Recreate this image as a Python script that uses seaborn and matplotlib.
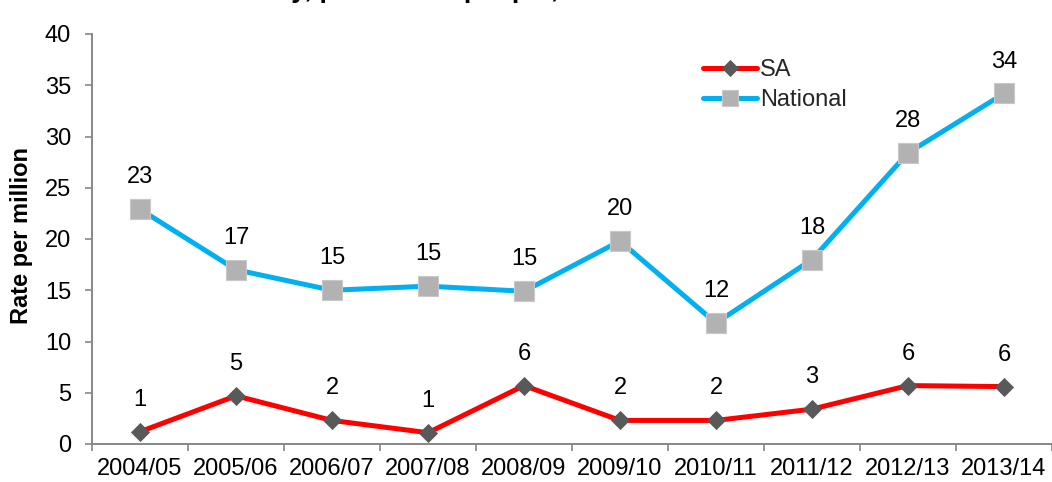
import numpy as np
import pandas as pd
import matplotlib
matplotlib.use("Agg")
import matplotlib.pyplot as plt
import seaborn as sns

# Rate per million, by financial year
years = ["2004/05", "2005/06", "2006/07", "2007/08", "2008/09",
         "2009/10", "2010/11", "2011/12", "2012/13", "2013/14"]
sa_rate = [1.2, 4.7, 2.3, 1.1, 5.7, 2.3, 2.3, 3.4, 5.7, 5.6]
national_rate = [22.9, 17.0, 15.0, 15.4, 14.9, 19.8, 11.8, 18.0, 28.4, 34.2]
y_ticks = [0, 5, 10, 15, 20, 25, 30, 35, 40]

df = pd.DataFrame({
    "pos": np.arange(len(years)),
    "year": years,
    "SA": sa_rate,
    "National": national_rate,
})

sns.set_theme(style="white")
plt.rcParams["font.family"] = ["Liberation Sans", "DejaVu Sans"]

W, H = 1052, 482
fig = plt.figure(figsize=(W / 100, H / 100), dpi=100)
ax_left, ax_right, ax_top, ax_bottom = 92, 1052, 34, 444
ax = fig.add_axes([ax_left / W, 1 - ax_bottom / H,
                   (ax_right - ax_left) / W, (ax_bottom - ax_top) / H])

axis_grey = "#878787"
fs = 17

sns.lineplot(data=df, x="pos", y="SA", ax=ax, color="#FF0000", linewidth=3.6,
             marker="D", markersize=9.6, markerfacecolor="#595959",
             markeredgecolor="#595959", markeredgewidth=0.6, label="SA",
             zorder=3)
sns.lineplot(data=df, x="pos", y="National", ax=ax, color="#00B0F0",
             linewidth=3.6, marker="s", markersize=14.2,
             markerfacecolor="#B2B2B2", markeredgecolor="#C8C8C8",
             markeredgewidth=0.8, label="National", zorder=3)

# Value labels above each point
for col in ["SA", "National"]:
    for x, v in zip(df["pos"], df[col]):
        ax.annotate(f"{v:.0f}", (x, v), xytext=(0, 23), textcoords="offset points",
                    ha="center", va="center", fontsize=fs, color="black")

ax.set_xlim(-0.5, len(years) - 0.5)
ax.set_ylim(0, 40)
ax.set_yticks(y_ticks)
ax.set_xticks(df["pos"])
ax.set_xticklabels(years)
ax.set_xticks(np.arange(-0.5, len(years) + 0.5, 1), minor=True)
ax.tick_params(axis="x", which="major", length=0, pad=10, labelsize=fs,
               labelcolor="black")
ax.tick_params(axis="x", which="minor", length=5, width=1.2, color=axis_grey,
               direction="out", bottom=True)
ax.tick_params(axis="y", length=5, width=1.2, color=axis_grey, direction="out",
               left=True, pad=10, labelsize=fs, labelcolor="black")

for side in ["top", "right"]:
    ax.spines[side].set_visible(False)
for side in ["left", "bottom"]:
    ax.spines[side].set_color(axis_grey)
    ax.spines[side].set_linewidth(1.4)

ax.set_xlabel("")
ax.set_ylabel("Rate per million", fontsize=17, fontweight="bold", color="black")
ax.yaxis.set_label_coords((33 - ax_left) / (ax_right - ax_left),
                          (ax_bottom - 236) / (ax_bottom - ax_top))

leg = ax.legend(loc="upper left", bbox_to_anchor=(703 / W, 1 - 59 / H),
                bbox_transform=fig.transFigure, frameon=False, fontsize=fs,
                handlelength=2.3, handletextpad=0.1, borderpad=0,
                borderaxespad=0, labelspacing=0.35)
for h in leg.legend_handles:
    h.set_markersize(h.get_markersize() * 0.85)

fig.text(80 / W, 1 + 3 / H, "SA and nationally, per million people, 2004–05 to 2013–14",
         ha="left", va="baseline", fontsize=19.5, fontweight="bold", color="black")

fig.savefig("out.png", dpi=100, facecolor="white")
